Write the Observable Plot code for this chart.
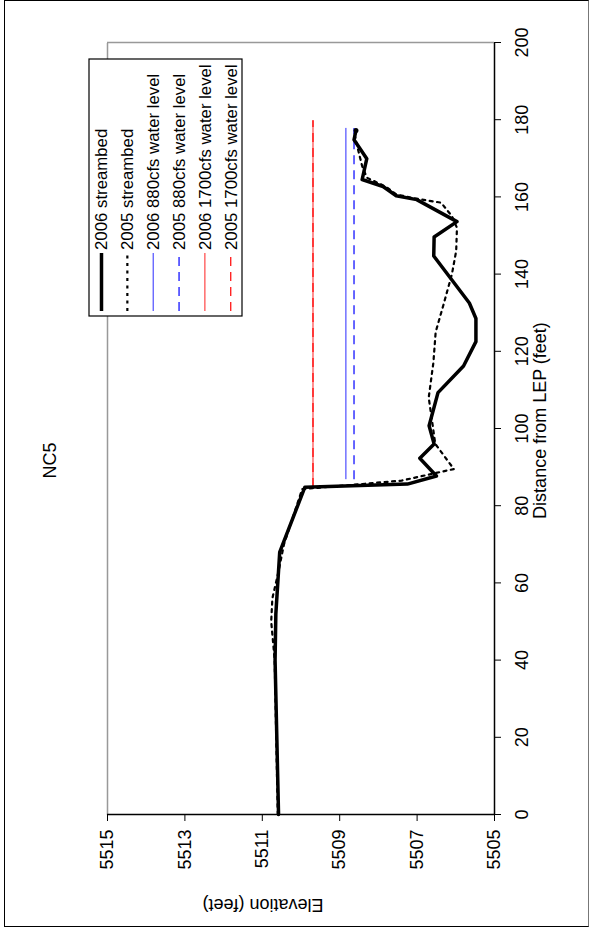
<!DOCTYPE html>
<html><head><meta charset="utf-8">
<script src="https://cdn.jsdelivr.net/npm/d3@7"></script>
<script src="https://cdn.jsdelivr.net/npm/@observablehq/plot@0.6"></script>
<style>
html,body{margin:0;padding:0;background:#fff;}
#page{position:relative;width:589px;height:930px;overflow:hidden;background:#fff;font-family:"Liberation Sans",Arial,sans-serif;}
#frame{position:absolute;left:4px;top:0;width:585px;height:927px;box-sizing:border-box;border:1.5px solid #000;border-right-color:#777;}
#rot{position:absolute;left:0;top:0;width:930px;height:589px;transform-origin:0 0;transform:translate(0,930px) rotate(-90deg);}
</style></head>
<body><div id="page"><div id="frame"></div><div id="rot"></div></div>
<script>
const chartTitle = "NC5";
const xLabel = "Distance from LEP (feet)";
const yLabel = "Elevation (feet)";
const xTicks = [0, 20, 40, 60, 80, 100, 120, 140, 160, 180, 200];
const yTicks = [5505, 5507, 5509, 5511, 5513, 5515];

const dist2006 = [0, 40, 52, 68, 84.8, 85.6, 87.7, 92.3, 96, 100.7, 109.3, 116.2, 122.5, 128.5, 132.5, 144.7, 149.6, 153.6, 159.3, 160.3, 162.7, 164.5, 169.9, 174.8, 177.2];
const elev2006 = [5510.58, 5510.67, 5510.65, 5510.55, 5509.9, 5507.25, 5506.5, 5506.93, 5506.56, 5506.69, 5506.46, 5505.8, 5505.48, 5505.48, 5505.65, 5506.57, 5506.56, 5505.97, 5507.01, 5507.54, 5507.88, 5508.42, 5508.3, 5508.63, 5508.58];

const dist2005 = [0, 40, 50, 56, 63, 70, 84.3, 86.5, 89.5, 96, 101, 108, 117, 125, 132, 140, 146, 152, 155, 158.5, 159.6, 160.6, 162.6, 165, 168, 172, 176];
const elev2005 = [5510.6, 5510.68, 5510.77, 5510.74, 5510.58, 5510.44, 5509.97, 5507.4, 5506.05, 5506.53, 5506.6, 5506.7, 5506.58, 5506.52, 5506.32, 5506.1, 5505.99, 5505.97, 5506.1, 5506.38, 5507.05, 5507.53, 5507.8, 5508.3, 5508.42, 5508.52, 5508.61];

const seriesNames = ["2006 streambed", "2005 streambed", "2006 880cfs water level", "2005 880cfs water level", "2006 1700cfs water level", "2005 1700cfs water level"];
const waterLevels = [5508.84, 5508.63, 5509.69, 5509.69];
const waterStart = [87, 87, 85, 85];
const waterEnd = [178, 178, 180, 180];

// styles (not data)
const styles = [
  {stroke: "#000", width: 3.5, dash: null},
  {stroke: "#000", width: 2.2, dash: "3,4.5"},
  {stroke: "#2a2aff", width: 1, dash: null},
  {stroke: "#0000ff", width: 1.2, dash: "9,6"},
  {stroke: "#ff2020", width: 1, dash: null},
  {stroke: "#ff0000", width: 1.2, dash: "9,6"}
];

const s2006 = dist2006.map((d, i) => ({d, e: elev2006[i]}));
const s2005 = dist2005.map((d, i) => ({d, e: elev2005[i]}));
const water = waterLevels.map((lv, i) => ({name: seriesNames[i + 2], level: lv, start: waterStart[i], end: waterEnd[i], idx: i + 2}));

const FS = 18;
const waterMarks = water.map(w => Plot.ruleY([w], {
  y: "level", x1: "start", x2: "end",
  stroke: styles[w.idx].stroke, strokeWidth: styles[w.idx].width,
  strokeDasharray: styles[w.idx].dash || undefined
}));

const svg = Plot.plot({
  width: 930, height: 589,
  marginLeft: 115, marginRight: 43, marginTop: 107, marginBottom: 95,
  style: {fontFamily: '"Liberation Sans", Arial, sans-serif', fontSize: FS + "px", color: "#000", background: "transparent", overflow: "visible"},
  x: {domain: [0, 200]},
  y: {domain: [5505, 5515]},
  marks: [
    Plot.ruleY([5515], {stroke: "#999", strokeWidth: 1.5}),
    Plot.ruleX([200], {stroke: "#999", strokeWidth: 1.5}),
    ...waterMarks,
    Plot.line(s2005, {x: "d", y: "e", stroke: styles[1].stroke, strokeWidth: styles[1].width, strokeDasharray: styles[1].dash}),
    Plot.line(s2006, {x: "d", y: "e", stroke: styles[0].stroke, strokeWidth: styles[0].width, strokeLinejoin: "round"}),
    Plot.dot([s2006[s2006.length - 1]], {x: "d", y: "e", r: 2.5, fill: "#000"}),
    Plot.ruleY([5505], {stroke: "#000", strokeWidth: 1.5}),
    Plot.ruleX([0], {stroke: "#000", strokeWidth: 1.5}),
    Plot.axisX(xTicks, {tickSize: 7, tickPadding: 14, fontSize: FS, label: null, tickFormat: d => String(d)}),
    Plot.axisY(yTicks, {tickSize: 6, tickPadding: 9, fontSize: FS, label: null, tickFormat: d => String(d)}),
    Plot.text([xLabel], {text: d => d, frameAnchor: "bottom", dx: 8, dy: 51, fontSize: FS, fill: "#000"}),
    Plot.text([yLabel], {text: d => d, frameAnchor: "left", dx: -90, dy: 22.5, rotate: -90, fontSize: FS, fill: "#000"}),
    Plot.text([chartTitle], {text: d => d, frameAnchor: "top", dx: -32, dy: -64, fontSize: FS, fill: "#000"})
  ]
});

// Legend
const g = d3.select(svg).append("g").attr("class", "legend").attr("text-anchor", "start");
g.append("rect").attr("x", 614).attr("y", 89).attr("width", 257).attr("height", 153)
  .attr("fill", "#fff").attr("stroke", "#000").attr("stroke-width", 1.2);
seriesNames.forEach((name, i) => {
  const y = 101.5 + i * 25.85;
  const st = styles[i];
  g.append("line").attr("x1", 619).attr("x2", 677).attr("y1", y).attr("y2", y)
    .attr("stroke", st.stroke).attr("stroke-width", st.width)
    .attr("stroke-dasharray", st.dash);
  g.append("text").attr("x", 680).attr("y", y).attr("dy", "0.35em")
    .attr("text-anchor", "start")
    .attr("font-size", "16.8px").attr("fill", "#000").text(name);
});

document.getElementById("rot").appendChild(svg);
</script>
</body></html>
